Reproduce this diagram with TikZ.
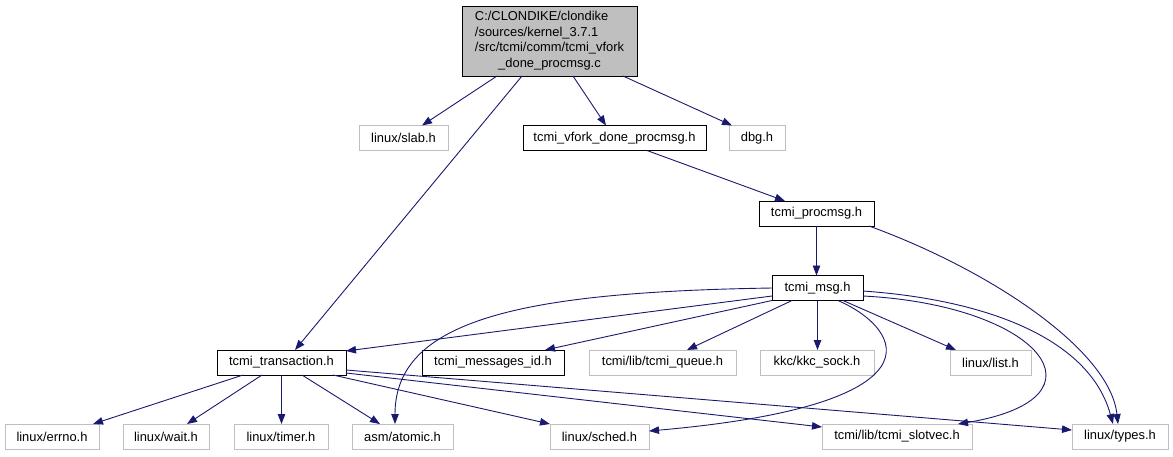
\documentclass[tikz,border=0pt]{standalone}
\usepackage{fontspec}
\setmainfont{Liberation Sans}
\usetikzlibrary{arrows.meta}
\definecolor{edgeblue}{HTML}{191970}
\definecolor{boxgray}{HTML}{BFBFBF}
\tikzset{
    incgraph/.style={
        x=1pt, y=-1pt,
        font=\fontsize{12.9}{15.5}\selectfont,
        filebox/.style={draw=black, fill=white, line width=1pt, minimum height=25pt, inner sep=2pt, outer sep=0pt},
        sysbox/.style={filebox, draw=boxgray},
        rootbox/.style={filebox, fill=boxgray, minimum width=175pt, minimum height=70pt},
        dep/.style={draw=edgeblue, line width=0.9pt, -{Triangle[length=10pt, width=7.5pt]}}
    }
}

\begin{document}
\begin{tikzpicture}[incgraph]
        \useasboundingbox (0,0) rectangle (1173,456);

        % Source file
        \node[rootbox] (root) at (549.5,41) {\begin{tabular}{@{}l@{}}C:/CLONDIKE/clondike\\/sources/kernel\_3.7.1\\/src/tcmi/comm/tcmi\_vfork\\\multicolumn{1}{@{}c@{}}{\_done\_procmsg.c}\end{tabular}};

        % First level
        \node[sysbox, minimum width=89pt] (slab) at (403.5,138) {linux/slab.h};
        \node[filebox, minimum width=183pt] (vfork) at (614.5,138) {tcmi\_vfork\_done\_procmsg.h};
        \node[sysbox, minimum width=56pt] (dbg) at (757,138) {dbg.h};
        \node[filebox, minimum width=115pt] (procmsg) at (816.5,213.5) {tcmi\_procmsg.h};
        \node[filebox, minimum width=91pt] (msg) at (817.5,288) {tcmi\_msg.h};

        % Middle row
        \node[filebox, minimum width=129pt] (transaction) at (281.5,362.5) {tcmi\_transaction.h};
        \node[filebox, minimum width=142pt] (msgid) at (493,362.5) {tcmi\_messages\_id.h};
        \node[sysbox, minimum width=147pt] (queue) at (662.5,362.5) {tcmi/lib/tcmi\_queue.h};
        \node[sysbox, minimum width=114pt] (kkc) at (817,362.5) {kkc/kkc\_sock.h};
        \node[sysbox, minimum width=81pt] (list) at (990.5,362.5) {linux/list.h};

        % Bottom row
        \node[sysbox, minimum width=94pt] (errno) at (52,436.5) {linux/errno.h};
        \node[sysbox, minimum width=86pt] (wait) at (166,436.5) {linux/wait.h};
        \node[sysbox, minimum width=94pt] (timer) at (281,436.5) {linux/timer.h};
        \node[sysbox, minimum width=101pt] (atomic) at (402.5,436.5) {asm/atomic.h};
        \node[sysbox, minimum width=99pt] (sched) at (599.5,436.5) {linux/sched.h};
        \node[sysbox, minimum width=150pt] (slotvec) at (897,436.5) {tcmi/lib/tcmi\_slotvec.h};
        \node[sysbox, minimum width=96pt] (types) at (1120,436.5) {linux/types.h};

        % Includes of the source file
        \draw[dep] ([xshift=-52.5pt]root.south) -- ([xshift=18.5pt]slab.north);
        \draw[dep] ([xshift=-27.5pt]root.south) -- ([xshift=13.5pt]transaction.north);
        \draw[dep] ([xshift=23.5pt]root.south) -- ([xshift=-8.5pt]vfork.north);
        \draw[dep] ([xshift=73.5pt]root.south) -- ([xshift=3pt]dbg.north west);

        % Header chain
        \draw[dep] ([xshift=32.5pt]vfork.south) -- ([xshift=-31.5pt]procmsg.north);
        \draw[dep] (procmsg.south) -- (procmsg.south |- msg.north);
        \draw[dep] ([xshift=-5pt]procmsg.south east) .. controls (990,270) and (1110,350) .. ([xshift=-2pt]types.north);

        % Includes of tcmi_msg.h
        \draw[dep] (msg.west) .. controls (520,292) and (395,320) .. ([xshift=-7.5pt]atomic.north);
        \draw[dep] ([yshift=-8pt]msg.west) -- ([yshift=-1pt]transaction.north east);
        \draw[dep] (msg.south west) -- ([xshift=52pt]msgid.north);
        \draw[dep] ([xshift=-25.5pt]msg.south) -- ([xshift=24.5pt]queue.north);
        \draw[dep] (msg.south) -- (msg.south |- kkc.north);
        \draw[dep] ([xshift=25.5pt]msg.south) -- ([xshift=6pt]list.north west);
        \draw[dep] ([xshift=20.5pt]msg.south) .. controls (905,330) and (945,405) .. ([yshift=5.5pt]sched.east);
        \draw[dep] ([yshift=-8pt]msg.east) .. controls (1040,305) and (1115,398) .. ([xshift=61pt]slotvec.north);
        \draw[dep] ([yshift=-3pt]msg.east) .. controls (990,300) and (1090,340) .. ([xshift=-7pt]types.north);

        % Includes of tcmi_transaction.h
        \draw[dep] ([xshift=-38.5pt]transaction.south) -- ([xshift=41pt]errno.north);
        \draw[dep] ([xshift=-19.5pt]transaction.south) -- ([xshift=21pt]wait.north);
        \draw[dep] (transaction.south) -- (transaction.south |- timer.north);
        \draw[dep] ([xshift=20.5pt]transaction.south) -- ([xshift=-22.5pt]atomic.north);
        \draw[dep] ([xshift=51.5pt]transaction.south) -- (sched.north west);
        \draw[dep] ([yshift=2pt]transaction.south east) -- ([yshift=-3pt]slotvec.north west);
        \draw[dep] ([yshift=5pt]transaction.south east) -- ([yshift=-6pt]types.north west);

    \end{tikzpicture}
\end{document}
